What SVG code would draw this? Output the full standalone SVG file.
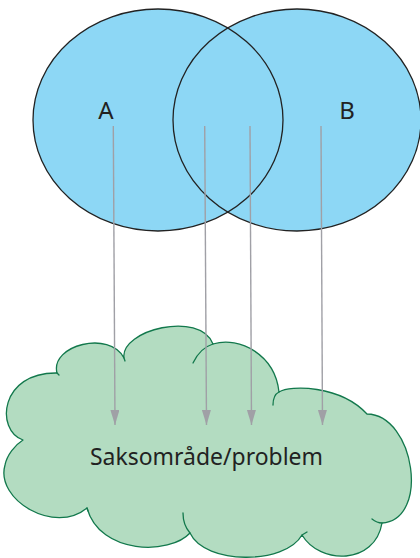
<svg xmlns="http://www.w3.org/2000/svg" width="420" height="558" viewBox="0 0 420 558">
<style>
.set{fill:#8dd7f5;stroke:none}
.outline{fill:none;stroke:#222;stroke-width:1.3}
.lbl{font-family:"Noto Sans","Liberation Sans",sans-serif;fill:#222}
.cloud{fill:#b3dcc1;stroke:#12784c;stroke-width:1.3;stroke-linejoin:round}
.tail{fill:none;stroke:#12784c;stroke-width:1.3;stroke-linecap:round}
.arr{stroke:#a0a0a6;stroke-width:1.4;fill:none;marker-end:url(#ah)}
</style>
<defs>
<marker id="ah" markerUnits="userSpaceOnUse" markerWidth="16" markerHeight="10" refX="15" refY="4.5" orient="auto">
<path d="M0,0 L15,4.5 L0,9 z" fill="#a0a0a6"/>
</marker>
</defs>
<g id="cloud">
<path class="cloud" d="M23,440 C-5,430 0,372 57,373 C50,345 110,330 124,358 C120,330 200,310 213,344 C240,336 275,355 279,392 C290,385 340,385 367,414 C415,415 430,520 382,523 C375,565 320,565 302,535 C285,565 205,565 190,533 C170,555 100,555 87,508 C55,535 -5,500 5,465 C7,455 15,445 23,440 Z"/>
<path class="tail" d="M193,363 Q200,348 213,344"/>
<path class="tail" d="M273,405 Q273,395 279,392"/>
<path class="tail" d="M372,519 Q377,523 382,523"/>
<path class="tail" d="M307,532 L302,535"/>
<path class="tail" d="M190,533 Q183,525 183,513"/>
<path class="tail" d="M57,373 L59,375"/>
<path class="tail" d="M124,358 L125,361"/>
<path class="tail" d="M87,508 L88,511"/>
<text class="lbl" x="206.5" y="465" font-size="24" text-anchor="middle" textLength="233" lengthAdjust="spacingAndGlyphs">Saksområde/problem</text>
</g>
<g id="setA">
<ellipse class="set" cx="158" cy="120" rx="125" ry="111"/>
</g>
<g id="setB">
<ellipse class="set" cx="297" cy="120" rx="124" ry="111"/>
</g>
<g id="outlines">
<ellipse class="outline" cx="158" cy="120" rx="125" ry="111"/>
<ellipse class="outline" cx="297" cy="120" rx="124" ry="111"/>
<text class="lbl" x="106" y="119" font-size="24" text-anchor="middle">A</text>
<text class="lbl" x="347" y="119" font-size="24" text-anchor="middle">B</text>
</g>
<g id="connectors">
<line class="arr" x1="113.3" y1="126" x2="115" y2="425"/>
<line class="arr" x1="204.7" y1="126" x2="206.5" y2="425"/>
<line class="arr" x1="250" y1="126" x2="251.5" y2="425"/>
<line class="arr" x1="321" y1="126" x2="322.5" y2="425"/>
</g>
</svg>
